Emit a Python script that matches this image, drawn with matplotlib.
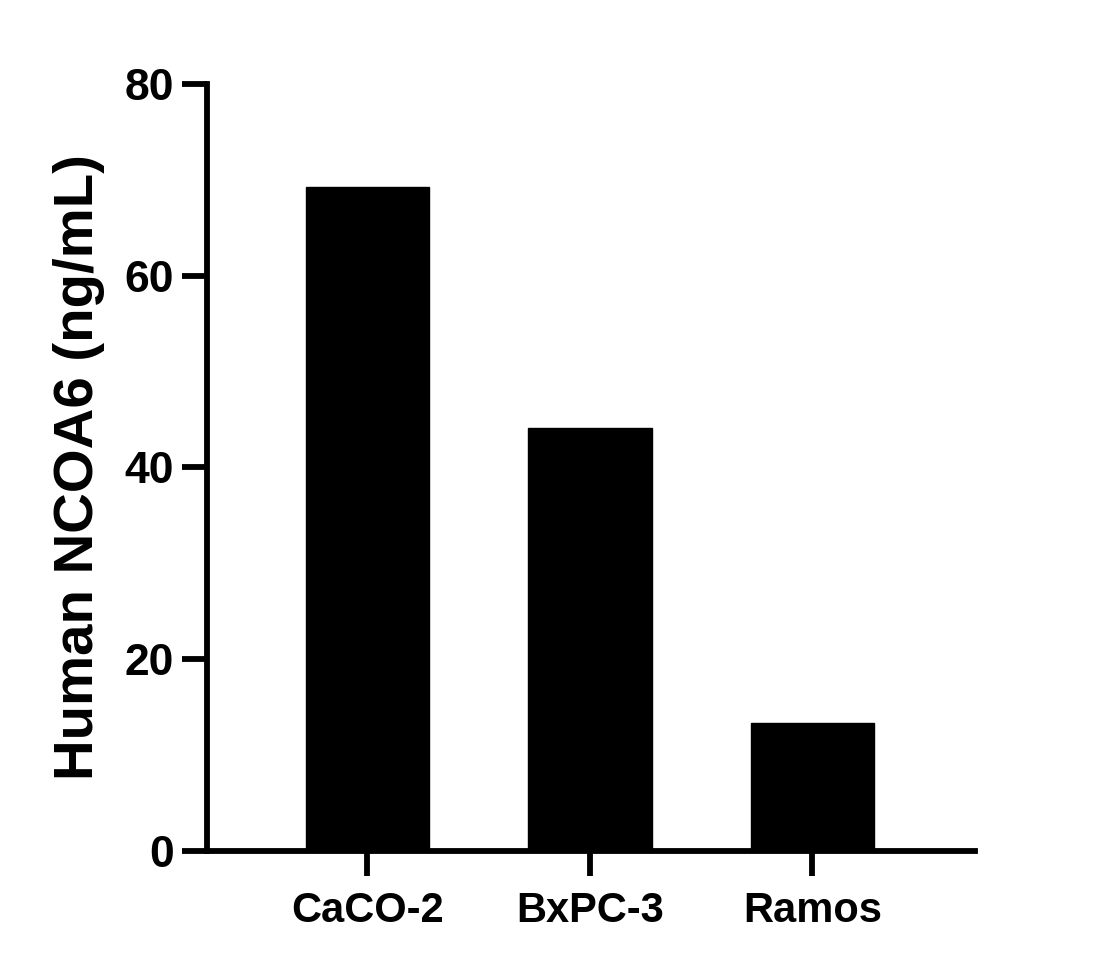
import numpy as np
import matplotlib
matplotlib.use("Agg")
import matplotlib.pyplot as plt

cell_lines = ["CaCO-2", "BxPC-3", "Ramos"]
ncoa6_ng_ml = [69.3, 44.1, 13.3]
y_ticks = [0, 20, 40, 60, 80]

plt.rcParams.update({
    'font.family': ['Liberation Sans', 'DejaVu Sans'],
    'font.weight': 'bold',
})

fig = plt.figure(figsize=(11.13, 9.68), dpi=100)
ax = fig.add_axes([0.186, 0.1209, 0.690, 0.7923])

x = np.arange(len(cell_lines))
ax.bar(x, ncoa6_ng_ml, width=0.555, color='black', edgecolor='black')

ax.set_xlim(-0.72, 2.73)
ax.set_ylim(0, 80)
ax.set_yticks(y_ticks)
ax.set_xticks(x)
ax.set_xticklabels(cell_lines)

for side in ['top', 'right']:
    ax.spines[side].set_visible(False)
for side in ['left', 'bottom']:
    ax.spines[side].set_linewidth(4.2)
    ax.spines[side].set_capstyle('projecting')

ax.tick_params(axis='both', width=4.2, length=18, direction='out')
ax.tick_params(axis='y', labelsize=32, pad=6)
ax.tick_params(axis='x', labelsize=30, pad=11)
for lab in ax.get_xticklabels() + ax.get_yticklabels():
    lab.set_fontweight('bold')

ax.set_ylabel("Human NCOA6 (ng/mL)", fontsize=40.6, fontweight='bold', labelpad=14)

fig.savefig("out.png", dpi=100)
